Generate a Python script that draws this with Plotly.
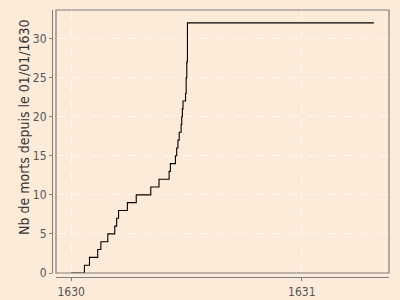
import plotly.graph_objects as go

# Cumulative deaths since 1630-01-01
dates = ["1630-01-01", "1630-01-22", "1630-01-30", "1630-02-12", "1630-02-17",
         "1630-02-28", "1630-03-11", "1630-03-14", "1630-03-17", "1630-03-31",
         "1630-04-14", "1630-05-07", "1630-05-20", "1630-06-05", "1630-06-07",
         "1630-06-15", "1630-06-17", "1630-06-19", "1630-06-21", "1630-06-24",
         "1630-06-25", "1630-06-26", "1630-06-27", "1630-07-01", "1630-07-02",
         "1630-07-02", "1630-07-03", "1630-07-03", "1630-07-04", "1630-07-04",
         "1630-07-04", "1630-07-04", "1630-07-04", "1631-04-25"]
deaths = [0, 1, 2, 3, 4, 5, 6, 7, 8, 9, 10, 11, 12, 13, 14,
          15, 16, 17, 18, 19, 20, 21, 22, 23, 24, 25, 26, 27, 28,
          29, 30, 31, 32, 32]

x_ticks = ["1630-01-01", "1631-01-01"]
x_tick_labels = ["1630", "1631"]
y_ticks = [0, 5, 10, 15, 20, 25, 30]
y_title = "Nb de morts depuis le 01/01/1630"

bg = "#FCEBD9"
grey = "#7f7f7f"
font = "DejaVu Sans Condensed, DejaVu Sans"
gridc = "rgba(255,255,255,0.65)"

fig = go.Figure()
fig.add_trace(go.Scatter(x=dates, y=deaths, mode="lines", line_shape="hv",
                         line=dict(color="black", width=1.1), hoverinfo="skip"))

W, H = 400, 300
ml, mr, mt, mb = 52, 11, 10, 23
pw = W - ml - mr
ph = H - mt - mb

fig.update_layout(
    width=W, height=H,
    margin=dict(l=ml, r=mr, t=mt, b=mb, autoexpand=False),
    paper_bgcolor=bg, plot_bgcolor=bg,
    showlegend=False,
    font=dict(family=font, size=12, color="#555555"),
    xaxis=dict(
        type="date",
        domain=[4 / pw, 1],
        range=["1629-12-08", "1631-05-19"],
        tickvals=x_ticks, ticktext=x_tick_labels,
        showgrid=True, gridcolor=gridc, griddash="dash", gridwidth=0.8,
        zeroline=False,
        showline=True, linecolor=grey, linewidth=1.2,
        ticks="outside", ticklen=3, tickcolor=grey, tickwidth=1.2,
        anchor="free", position=0, automargin=False,
        tickfont=dict(size=12, color="#555555"),
    ),
    yaxis=dict(
        domain=[4 / ph, 1],
        range=[0, 33.65],
        tickvals=y_ticks,
        showgrid=True, gridcolor=gridc, griddash="dash", gridwidth=0.8,
        zeroline=False,
        showline=True, linecolor=grey, linewidth=1.2,
        ticks="outside", ticklen=3, tickcolor=grey, tickwidth=1.2,
        anchor="free", position=0, automargin=False,
        tickfont=dict(size=12, color="#555555"),
    ),
)

# panel border
fig.add_shape(type="rect", xref="x domain", yref="y domain", x0=0, x1=1, y0=0, y1=1,
              line=dict(color=grey, width=1.2), fillcolor="rgba(0,0,0,0)", layer="above")

fig.add_annotation(text=y_title, xref="paper", yref="paper",
                   x=(24 - ml) / pw, y=(H - mb - 128) / ph,
                   xanchor="center", yanchor="middle", textangle=-90, showarrow=False,
                   font=dict(family=font, size=14, color="#333333"))

fig.write_html("out.html")
